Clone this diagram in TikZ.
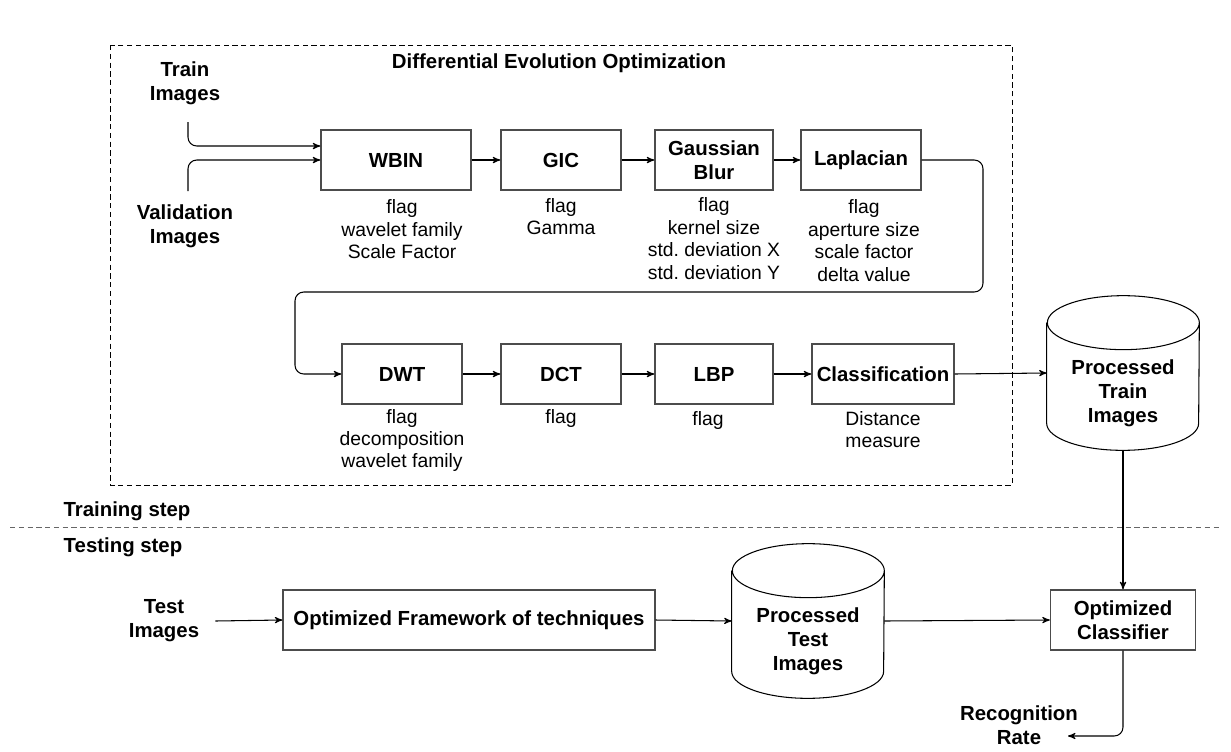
\documentclass[tikz,border=0pt]{standalone}
\usepackage{fontspec}
\setmainfont{Liberation Sans}
\usetikzlibrary{shapes.geometric,arrows,positioning}
\frenchspacing
\tikzset
{
    block/.style = {rectangle, draw=black!70, line width=0.8pt, align=center, minimum height=1.2cm, inner sep=2pt, font=\fontsize{11.6}{13.6}\selectfont\bfseries},
    param/.style = {align=center, inner sep=0pt, font=\fontsize{11}{12.8}\selectfont},
    label/.style = {align=center, inner sep=0pt, font=\fontsize{11.6}{13.6}\selectfont\bfseries},
    store/.style = {rectangle, minimum width=3.04cm, minimum height=3.08cm, inner sep=0pt},
    flow/.style  = {->, >=stealth', line width=0.6pt, rounded corners=5pt}
}
% cylinder outline round a store node
\newcommand\drawstore[1]{%
  \draw[line width=0.6pt] ([yshift=-0.54cm]#1.north west) -- ([yshift=0.54cm]#1.south west)
    arc[start angle=180, end angle=360, x radius=1.52cm, y radius=0.54cm]
    -- ([yshift=-0.54cm]#1.north east)
    arc[start angle=0, end angle=360, x radius=1.52cm, y radius=0.54cm];}
\begin{document}
\begin{tikzpicture}[x=0.02cm, y=-0.02cm]
\useasboundingbox (0,0) rectangle (1231,751);
% optimization frame
\draw[densely dashed, line width=0.5pt] (110,45) rectangle (1012,485);
\node [label] at (559,63) (deo) {Differential Evolution Optimization};
% inputs
\node [label] at (185,83) (train) {Train\\Images};
\node [label] at (185,226) (valid) {Validation\\Images};
\coordinate (trainout) at (188,122);
\coordinate (validout) at (188,191);
% first row
\node [block, minimum width=3cm] at (396,160) (wbin) {WBIN};
\node [block, minimum width=2.4cm] at (561,160) (gic) {GIC};
\node [block, minimum width=2.36cm] at (714,160) (gauss) {Gaussian\\Blur};
\node [block, minimum width=2.4cm] at (861,160) (lap) {Laplacian};
\node [param] at (402,229.5) (wbinp) {flag\\wavelet family\\Scale Factor};
\node [param] at (561,216.5) (gicp) {flag\\Gamma};
\node [param] at (714,238.5) (gaussp) {flag\\kernel size\\std. deviation X\\std. deviation Y};
\node [param] at (864,240.5) (lapp) {flag\\aperture size\\scale factor\\delta value};
% second row
\node [block, minimum width=2.4cm] at (402,374) (dwt) {DWT};
\node [block, minimum width=2.4cm] at (561,374) (dct) {DCT};
\node [block, minimum width=2.36cm] at (714,374) (lbp) {LBP};
\node [block, minimum width=2.84cm] at (883,374) (cls) {Classification};
\node [param] at (402,440.5) (dwtp) {flag\\decomposition\\wavelet family};
\node [param] at (561,418) (dctp) {flag};
\node [param] at (708,420) (lbpp) {flag};
\node [param] at (883,429.5) (clsp) {Distance\\measure};
\node [store] at (1123,373) (ptrain) {};
\drawstore{ptrain}
\node [label] at (1123,393) (ptraintxt) {Processed\\Train\\Images};
% steps
\draw[densely dashed, draw=black!60, line width=0.5pt] (10,527) -- (1220,527);
\node [label] at (127,511) (trstep) {Training step};
\node [label] at (123,547) (tsstep) {Testing step};
% testing
\node [label] at (164,621) (test) {Test\\Images};
\node [block, minimum width=7.44cm] at (469,620) (ofw) {Optimized Framework of techniques};
\node [store] at (808,621) (ptest) {};
\drawstore{ptest}
\node [label] at (808,641) (ptesttxt) {Processed\\Test\\Images};
\node [block, minimum width=2.9cm] at (1123,620) (ocls) {Optimized\\Classifier};
\node [label] at (1019,725) (rrate) {Recognition\\Rate};
\coordinate (rrin) at (1068,736);
% connectors
\draw[flow] (trainout) |- ([yshift=0.28cm]wbin.west);
\draw[flow] (validout) |- (wbin.west);
\draw[flow] (wbin) edge (gic) (gic) edge (gauss) (gauss) edge (lap);
\draw[flow] (lap.east) -- (983,160) -- (983,292) -- (295,292) |- (dwt.west);
\draw[flow] (dwt) edge (dct) (dct) edge (lbp) (lbp) edge (cls);
\draw[flow] (cls.east) -- (ptrain.west);
\draw[flow] (ptrain.south) -- (ocls.north);
\draw[flow] ([xshift=0.32cm]test.east) -- (ofw.west);
\draw[flow] (ofw.east) -- (ptest.west);
\draw[flow] (ptest.east) -- (ocls.west);
\draw[flow] (ocls.south) |- (rrin);
\end{tikzpicture}
\end{document}
